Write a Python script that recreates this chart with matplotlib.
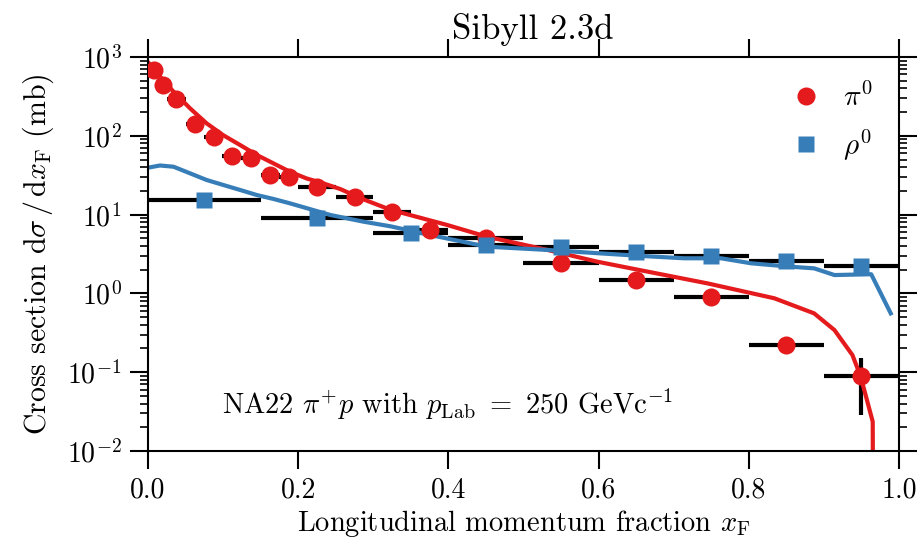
import numpy as np
import matplotlib
matplotlib.use("Agg")
import matplotlib.pyplot as plt

plt.rcParams['font.family'] = ['cmr10', 'DejaVu Serif']
plt.rcParams['mathtext.fontset'] = 'cm'
plt.rcParams['axes.formatter.use_mathtext'] = True
plt.rcParams['axes.unicode_minus'] = False

# ---- data: NA22 pi+ p -> pi0 (points with bin half-widths)
pi0_x = [0.0075, 0.0195, 0.0375, 0.0625, 0.0875, 0.1115, 0.137, 0.163, 0.1875,
         0.225, 0.275, 0.325, 0.375, 0.45, 0.55, 0.65, 0.75, 0.85, 0.95]
pi0_xerr = [0.0075, 0.0075, 0.0125, 0.0125, 0.0125, 0.0125, 0.0125, 0.0125, 0.0125,
            0.025, 0.025, 0.025, 0.025, 0.05, 0.05, 0.05, 0.05, 0.05, 0.05]
pi0_y = [683, 441, 290, 141, 97.5, 55.5, 51.8, 31.8, 30.3,
         22.6, 16.9, 10.9, 6.4, 5.0, 2.41, 1.48, 0.908, 0.221, 0.0904]
pi0_yerr = [0, 0, 0, 0, 0, 0, 0, 0, 0, 0, 0, 0, 0, 0, 0, 0, 0, 0, 0.062]

# ---- data: NA22 pi+ p -> rho0
rho0_x = [0.075, 0.225, 0.35, 0.45, 0.55, 0.65, 0.75, 0.85, 0.95]
rho0_xerr = [0.075, 0.075, 0.05, 0.05, 0.05, 0.05, 0.05, 0.05, 0.05]
rho0_y = [15.3, 8.97, 5.79, 4.11, 3.92, 3.38, 2.99, 2.58, 2.23]

# ---- Sibyll 2.3d predictions
sib_pi0_x = [0.0, 0.016, 0.034, 0.056, 0.078, 0.1, 0.123, 0.145, 0.167, 0.189,
             0.211, 0.233, 0.256, 0.287, 0.323, 0.398, 0.451, 0.532, 0.598, 0.643,
             0.683, 0.745, 0.834, 0.887, 0.914, 0.938, 0.949, 0.965, 0.966]
sib_pi0_y = [860, 562, 363, 223, 144, 102, 76, 57, 44.7, 35,
             28.8, 25, 21.1, 15.6, 11.5, 7.4, 5.25, 3.56, 2.53, 2.08,
             1.75, 1.34, 0.867, 0.558, 0.343, 0.165, 0.0877, 0.0236, 1e-4]

sib_rho0_x = [0.0, 0.016, 0.034, 0.056, 0.078, 0.1, 0.123, 0.145, 0.167, 0.189,
              0.243, 0.287, 0.323, 0.376, 0.451, 0.532, 0.598, 0.656, 0.714, 0.763,
              0.803, 0.856, 0.887, 0.914, 0.963, 0.989]
sib_rho0_y = [39.4, 42.0, 40.5, 33.4, 27.5, 23.8, 20.5, 17.7, 15.8, 13.9,
              9.88, 8.13, 7.1, 5.5, 3.92, 3.56, 3.24, 2.99, 2.79, 2.79,
              2.41, 2.18, 2.08, 1.71, 1.75, 0.558]

red = '#e41a1c'
blue = '#377eb8'

fig = plt.figure(figsize=(9.2, 5.46), dpi=100)
ax = fig.add_axes([148/920, 1-451/546, (899-148)/920, (451-57)/546])

ax.errorbar(pi0_x, pi0_y, xerr=pi0_xerr, yerr=pi0_yerr,
            fmt='none', ecolor='black', elinewidth=3, capsize=0, zorder=1)
ax.errorbar(rho0_x, rho0_y, xerr=rho0_xerr, fmt='none', ecolor='black',
            elinewidth=3, capsize=0, zorder=1)

ax.plot(sib_pi0_x, sib_pi0_y, color=red, lw=3, zorder=2)
ax.plot(sib_rho0_x, sib_rho0_y, color=blue, lw=3, zorder=2)

ax.plot(pi0_x, pi0_y, 'o', color=red, ms=13, mec='none', zorder=3,
        label=r'$\pi^0$')
ax.plot(rho0_x, rho0_y, 's', color=blue, ms=12, mec='none', zorder=4,
        label=r'$\rho^0$')

ax.set_yscale('log')
ax.set_xlim(0, 1.0)
ax.set_ylim(1e-2, 1e3)
ax.set_xticks([0.0, 0.2, 0.4, 0.6, 0.8, 1.0])
ax.set_xticklabels(['0.0', '0.2', '0.4', '0.6', '0.8', '1.0'])

ax.tick_params(axis='both', which='major', direction='out', length=13, width=1.5,
               labelsize=20, top=True, right=True, pad=6)
ax.tick_params(axis='y', which='minor', direction='out', length=6, width=1.2,
               left=True, right=True)
for s in ax.spines.values():
    s.set_linewidth(1.5)

ax.set_xlabel(r'Longitudinal momentum fraction $x_\mathrm{F}$', fontsize=20.5, labelpad=3)
ax.set_ylabel(r'Cross section $\mathrm{d}\sigma\,/\,\mathrm{d}x_\mathrm{F}$ (mb)', fontsize=21.5,
              labelpad=8)
ax.set_title('Sibyll 2.3d', fontsize=25, pad=13, x=0.512)

ax.text(0.099, 0.117, r'NA22 $\pi^{+}p$ with $p_\mathrm{Lab}\ =\ 250$ GeVc$^{-1}$',
        transform=ax.transAxes, fontsize=20.5, va='center', ha='left')

ax.legend(loc='upper right', frameon=False, fontsize=21, handletextpad=0.5,
          labelspacing=0.5, borderaxespad=0.5, handlelength=1.5)

fig.savefig('out.png', dpi=100)
